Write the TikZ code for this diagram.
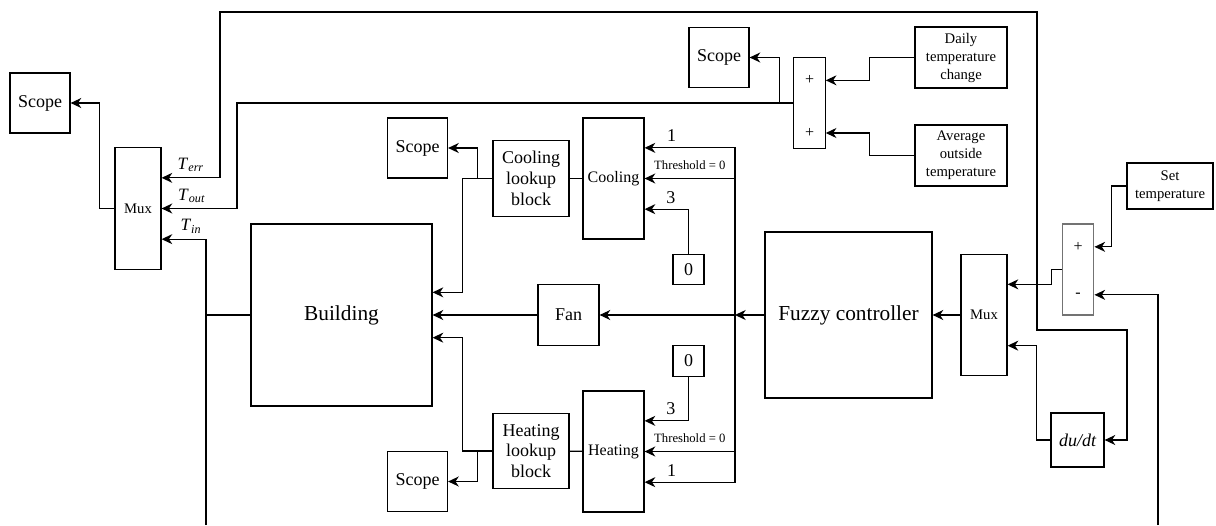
\documentclass[tikz,border=0pt]{standalone}
\usepackage{fontspec}
\setmainfont{Liberation Serif}
\usetikzlibrary{arrows.meta,calc,positioning}
\newcommand{\tsig}[1]{\textit{T}\textsubscript{\textit{#1}}}

\begin{document}
\begin{tikzpicture}[x=0.75pt, y=-0.75pt, line width=0.9pt,
  >={Stealth[length=8pt,width=7.5pt,inset=2.5pt]},
  blk/.style={draw, align=center, inner sep=1pt, font=\fontsize{13.5}{15.5}\selectfont},
  scopebox/.style={blk, minimum width=45pt, minimum height=45pt},
  muxbox/.style={blk, minimum width=34.5pt, minimum height=91pt, font=\fontsize{11}{13}\selectfont},
  sumbox/.style={blk, minimum width=23.5pt, minimum height=68pt},
  srcbox/.style={blk, minimum width=69pt, minimum height=45.75pt, font=\fontsize{11}{13.5}\selectfont},
  relay/.style={blk, minimum width=45.75pt, minimum height=90.75pt, font=\fontsize{12}{14}\selectfont},
  lookup/.style={blk, minimum width=57pt, minimum height=56.5pt},
  constbox/.style={blk, minimum width=23.25pt, minimum height=23pt},
  bigbox/.style={blk, font=\fontsize{16}{18}\selectfont},
  signlbl/.style={font=\fontsize{12}{14}\selectfont, inner sep=0pt},
  numlbl/.style={font=\fontsize{13.5}{15}\selectfont, inner sep=0pt, above=4pt},
  thr/.style={font=\fontsize{9.5}{11}\selectfont, inner sep=0pt, above=6pt},
  sgn/.style={font=\fontsize{13}{15}\selectfont, inner sep=0pt, above=4pt}]
  \useasboundingbox (0,0) rectangle (1216,525);
  \node[scopebox] (scl) at (40,103) {Scope};
  \node[muxbox] (muxl) at (138,208.5) {Mux};
  \node[scopebox] (sct) at (719,57.5) {Scope};
  \node[sumbox] (sumt) at (809.5,103) {};
  \node[signlbl] (st1) at ([yshift=17pt]sumt.center) {+};
  \node[signlbl] (st2) at ([yshift=-22.5pt]sumt.center) {+};
  \node[srcbox] (dly) at (961,57.5) {Daily\\temperature\\change};
  \node[srcbox] (avg) at (961,155.5) {Average\\outside\\temperature};
  \node[scopebox] (scc) at (417.5,148) {Scope};
  \node[lookup] (lkc) at (531,178.5) {Cooling\\lookup\\block};
  \node[relay] (cool) at (613.5,178.5) {Cooling};
  \node[constbox] (zc) at (688.5,269.5) {0};
  \node[bigbox, minimum width=135.75pt, minimum height=136.5pt] (bld) at (341.5,315) {Building};
  \node[blk, minimum width=45.75pt, minimum height=45.75pt] (fan) at (568.5,315) {Fan};
  \node[bigbox, minimum width=125.25pt, minimum height=124.5pt] (fz) at (848.5,315) {Fuzzy controller};
  \node[muxbox] (muxr) at (984,315) {Mux};
  \node[sumbox, draw=black!55, line width=1.2pt] (sumr) at (1078,269.5) {};
  \node[signlbl] (sr1) at ([yshift=17pt]sumr.center) {+};
  \node[signlbl] (sr2) at ([yshift=-19pt]sumr.center) {-};
  \node[srcbox, minimum width=64.5pt, minimum height=34.5pt] (set) at (1170,186) {Set\\temperature};
  \node[blk, minimum width=39.75pt, minimum height=40.5pt, font=\fontsize{13.5}{15}\selectfont\itshape] (dudt) at (1077.5,440) {du/dt};
  \node[constbox] (zh) at (688.5,361) {0};
  \node[relay] (heat) at (613.5,451.5) {Heating};
  \node[lookup] (lkh) at (531,451) {Heating\\lookup\\block};
  \node[scopebox] (sch) at (417.5,481.5) {Scope};
  \coordinate (bus) at (735,315);
  \coordinate (err) at (1037,285);
  \coordinate (tin) at (206,525);
  \coordinate (meas) at (1158,525);
  \draw[->] (muxl.west) -- ++(-15,0) |- (scl);
  \draw[->] (err) |- (220,12) |- ([yshift=23pt]muxl.east) node[sgn, pos=0.75] {\tsig{err}};
  \draw[->] (err) |- (1127,330) |- (dudt.east);
  \draw[->] (sumt.west) -| (237,208.5) -- (muxl.east) node[sgn, pos=0.6] {\tsig{out}};
  \draw[->] (tin) |- ([yshift=-23pt]muxl.east) node[sgn, pos=0.67] {\tsig{in}};
  \draw (bld.west) -- (bld.west -| tin);
  \draw[->] (sumt.west) -- ++(-14,0) |- (sct);
  \draw[->] (dly.west) -- ++(-45,0) |- ([yshift=17pt]sumt.east);
  \draw[->] (avg.west) -- ++(-45,0) |- ([yshift=-22.5pt]sumt.east);
  \draw (cool) -- (lkc);
  \draw[->] (lkc.west) -- ++(-30,0) |- ([yshift=17pt]bld.east);
  \draw[->] (lkc.west) -- ++(-15,0) |- (scc);
  \draw[->] (bus) |- ([yshift=23pt]cool.east) node[numlbl, pos=0.85] {1};
  \draw[->] (bus |- cool.east) -- (cool.east) node[thr, midway] {Threshold = 0};
  \draw[->] (zc) |- ([yshift=-23pt]cool.east) node[numlbl, pos=0.7] {3};
  \draw[->] (fz) -- (bus);
  \draw[->] (bus) -- (fan);
  \draw[->] (fan) -- (bld);
  \draw (heat) -- (lkh);
  \draw[->] (lkh.west) -- ++(-30,0) |- ([yshift=-17pt]bld.east);
  \draw[->] (lkh.west) -- ++(-15,0) |- (sch);
  \draw[->] (zh) |- ([yshift=23pt]heat.east) node[numlbl, pos=0.7] {3};
  \draw[->] (bus |- heat.east) -- (heat.east) node[thr, midway] {Threshold = 0};
  \draw[->] (bus) |- ([yshift=-23pt]heat.east) node[numlbl, pos=0.85] {1};
  \draw[->] (muxr) -- (fz);
  \draw[->] (sumr.west) -- ++(-10,0) |- ([yshift=23pt]muxr.east);
  \draw[->] (dudt.west) -- ++(-14,0) |- ([yshift=-23pt]muxr.east);
  \draw[->] (set.west) -- ++(-15,0) |- ([yshift=17pt]sumr.east);
  \draw[->] (meas) |- ([yshift=-19pt]sumr.east);
\end{tikzpicture}
\end{document}
